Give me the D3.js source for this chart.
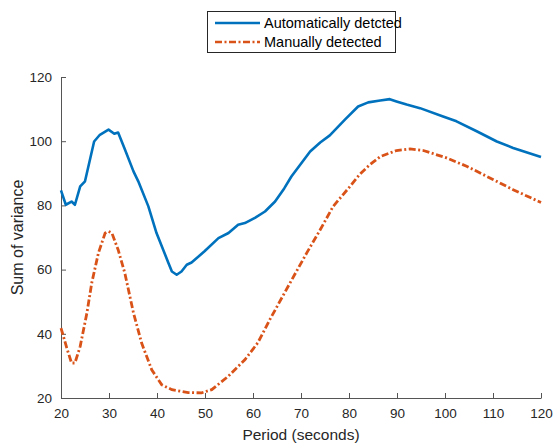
<!DOCTYPE html>
<html>
<head>
<meta charset="utf-8">
<script src="https://cdn.jsdelivr.net/npm/d3@7"></script>
<style>
  body { margin: 0; background: #fff; }
  svg { display: block; font-family: "Liberation Sans", Arial, sans-serif; }
</style>
</head>
<body>
<div id="chart"></div>
<script>
// series data
const autoX = [20, 21, 22.2, 22.9, 24, 25, 26.9, 28.1, 29.9, 31.1, 31.9, 33.3, 35.1, 36.1, 38.2, 39.9, 42.4, 43.1, 44.1, 45.1, 46.2, 47.2, 49.9,
  52.8, 54.9, 56.9, 58.3, 60.4, 62.5, 64.6, 66.5, 68, 71.9, 74, 76, 79.2, 81.9, 84, 86.5, 88.5, 89.9, 92, 94.8, 99.6, 102.4, 106.6, 110.8, 114.2, 120];
const autoY = [84.7, 80.2, 81.2, 80.2, 85.9, 87.5, 99.9, 102, 103.6, 102.3, 102.7, 97.5, 90.6, 87.5, 79.7, 71.4, 62, 59.4, 58.4, 59.4, 61.5, 62.2, 65.7,
  69.8, 71.4, 74, 74.5, 76.1, 78.1, 81.2, 85.3, 89, 96.8, 99.6, 101.8, 106.8, 110.8, 112.1, 112.7, 113.1, 112.4, 111.4, 110.3, 107.7, 106.2, 103.1, 99.9, 97.9, 95.1];

const manX = [20, 21.2, 22.2, 22.9, 24, 25.4, 26.4, 27.8, 29.2, 29.9, 30.6, 31.9, 33.3, 35.1, 36.8, 38.9, 41, 43.1, 46.5, 49.3, 51.4, 54.8, 58.3,
  61, 63.5, 67.7, 71.2, 74, 76.7, 80.2, 82.2, 84.2, 86.5, 89.9, 92.7, 95.5, 100.3, 104.5, 110.1, 114.2, 120];
const manY = [41.8, 35.6, 30.9, 30.9, 36.1, 46.5, 55.8, 65.2, 71.4, 71.9, 71.4, 66.2, 58.9, 46.5, 37.1, 28.8, 24.1, 22.6, 21.7, 21.6, 22.6, 26.7, 31.9,
  37.2, 44.4, 55.8, 65.2, 72.4, 79.7, 85.9, 89.6, 92.5, 95.2, 97.1, 97.6, 97.1, 94.8, 92.2, 88, 84.9, 80.9];

const xTicks = [20, 30, 40, 50, 60, 70, 80, 90, 100, 110, 120];
const yTicks = [20, 40, 60, 80, 100, 120];
const seriesNames = ["Automatically detcted", "Manually detected"];
const seriesColors = ["#0072BD", "#D95319"];

const width = 555, height = 443;
const plotLeft = 61, plotRight = 541, plotTop = 77, plotBottom = 398;
const dashDot = "7,2.5,2,2.5";

const svg = d3.select("#chart").append("svg")
  .attr("width", width)
  .attr("height", height);

const x = d3.scaleLinear().domain([20, 120]).range([plotLeft, plotRight]);
const y = d3.scaleLinear().domain([20, 120]).range([plotBottom, plotTop]);

// axes: MATLAB style, ticks pointing inward
const xAxis = svg.append("g")
  .attr("transform", `translate(0,${plotBottom})`)
  .call(d3.axisBottom(x).tickValues(xTicks).tickSizeInner(-5).tickSizeOuter(0).tickPadding(10));
const yAxis = svg.append("g")
  .attr("transform", `translate(${plotLeft},0)`)
  .call(d3.axisLeft(y).tickValues(yTicks).tickSizeInner(-5).tickSizeOuter(0).tickPadding(9));

[xAxis, yAxis].forEach(a => {
  a.select(".domain").attr("stroke", "#555").attr("stroke-width", 1);
  a.selectAll(".tick line").attr("stroke", "#555");
  a.selectAll(".tick text").attr("fill", "#262626").style("font-size", "13.5px");
});

svg.append("text")
  .attr("x", (plotLeft + plotRight) / 2)
  .attr("y", 440)
  .attr("text-anchor", "middle")
  .attr("fill", "#262626")
  .style("font-size", "15.5px")
  .text("Period (seconds)");

svg.append("text")
  .attr("transform", `translate(23,${(plotTop + plotBottom) / 2}) rotate(-90)`)
  .attr("text-anchor", "middle")
  .attr("fill", "#262626")
  .style("font-size", "16px")
  .text("Sum of variance");

const line = d3.line()
  .x(d => x(d[0]))
  .y(d => y(d[1]));

svg.append("path")
  .datum(autoX.map((v, i) => [v, autoY[i]]))
  .attr("d", line)
  .attr("fill", "none")
  .attr("stroke", seriesColors[0])
  .attr("stroke-width", 2.6)
  .attr("stroke-linejoin", "round");

svg.append("path")
  .datum(manX.map((v, i) => [v, manY[i]]))
  .attr("d", line)
  .attr("fill", "none")
  .attr("stroke", seriesColors[1])
  .attr("stroke-width", 2.8)
  .attr("stroke-dasharray", dashDot);

// legend
const legend = svg.append("g");
legend.append("rect")
  .attr("x", 207.5).attr("y", 11.5)
  .attr("width", 188).attr("height", 41)
  .attr("fill", "#fff")
  .attr("stroke", "#262626")
  .attr("stroke-width", 1);

seriesNames.forEach((name, i) => {
  const ly = 23 + i * 19;
  legend.append("line")
    .attr("x1", 215).attr("x2", 260)
    .attr("y1", ly).attr("y2", ly)
    .attr("stroke", seriesColors[i])
    .attr("stroke-width", 2.6)
    .attr("stroke-dasharray", i === 1 ? dashDot : null);
  legend.append("text")
    .attr("x", 264).attr("y", ly + 5)
    .attr("fill", "#000")
    .style("font-size", "14.5px")
    .text(name);
});
</script>
</body>
</html>
